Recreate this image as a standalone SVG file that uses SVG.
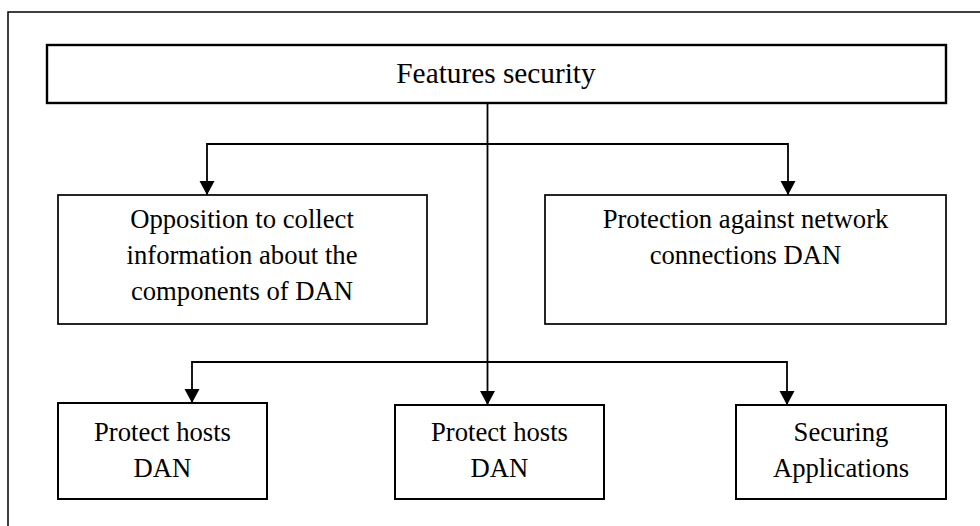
<svg xmlns="http://www.w3.org/2000/svg" width="980" height="526" viewBox="0 0 980 526">
<style>
  .frame { fill: none; stroke: #000; stroke-width: 1.5; }
  .box { fill: #fff; stroke: #000; }
  .top { stroke-width: 2.4; }
  .mid { stroke-width: 1.7; }
  .bot { stroke-width: 2; }
  .conn { fill: none; stroke: #000; stroke-width: 1.8; }
  text { font-family: "Liberation Serif", "Times New Roman", serif; fill: #000; text-anchor: middle; }
  .title { font-size: 29.3px; }
  .lbl { font-size: 26.67px; }
</style>
<defs>
  <marker id="arr" markerUnits="userSpaceOnUse" markerWidth="18" markerHeight="18" viewBox="0 0 18 18" refX="14" refY="9" orient="auto">
    <path d="M0,1.5 L14,9 L0,16.5 Z" fill="#000"/>
  </marker>
</defs>
<rect class="frame" x="8" y="12" width="990" height="540"/>
<g id="connectors">
  <path class="conn" d="M487.5,103 V405" marker-end="url(#arr)"/>
  <path class="conn" d="M487.5,144 H207 V195" marker-end="url(#arr)"/>
  <path class="conn" d="M487.5,144 H788 V195" marker-end="url(#arr)"/>
  <path class="conn" d="M487.5,362 H192 V403" marker-end="url(#arr)"/>
  <path class="conn" d="M487.5,362 H787 V405" marker-end="url(#arr)"/>
</g>
<g id="node-features">
  <rect class="box top" x="47" y="45" width="899" height="58"/>
  <text class="title" x="496" y="83">Features security</text>
</g>
<g id="node-opposition">
  <rect class="box mid" x="58" y="195" width="369" height="129"/>
  <text class="lbl" x="242" y="228">Opposition to collect</text>
  <text class="lbl" x="242" y="264">information about the</text>
  <text class="lbl" x="242" y="300">components of DAN</text>
</g>
<g id="node-protection">
  <rect class="box mid" x="545" y="195" width="401" height="129"/>
  <text class="lbl" x="745.5" y="228">Protection against network</text>
  <text class="lbl" x="745.5" y="264">connections DAN</text>
</g>
<g id="node-hosts1">
  <rect class="box bot" x="58" y="403" width="209" height="96"/>
  <text class="lbl" x="162.5" y="441">Protect hosts</text>
  <text class="lbl" x="162.5" y="477">DAN</text>
</g>
<g id="node-hosts2">
  <rect class="box bot" x="395" y="405" width="209" height="94"/>
  <text class="lbl" x="499.5" y="441">Protect hosts</text>
  <text class="lbl" x="499.5" y="477">DAN</text>
</g>
<g id="node-apps">
  <rect class="box bot" x="736" y="405" width="210" height="94"/>
  <text class="lbl" x="841" y="441">Securing</text>
  <text class="lbl" x="841" y="477">Applications</text>
</g>
</svg>
